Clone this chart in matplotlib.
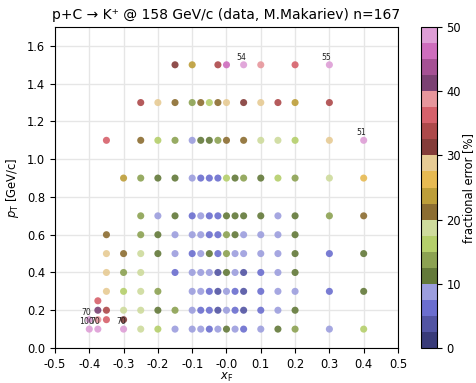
import matplotlib
matplotlib.use("Agg")
import matplotlib.pyplot as plt
import numpy as np

# kinematic grid points (xF, pT) with fractional error in %, one block per pT row
xf_150 = [-0.15, -0.1, -0.025, 0.0, 0.05, 0.1, 0.2, 0.3]
er_150 = [31, 24, 34, 46, 54, 39, 36, 55]

xf_130 = [-0.25, -0.2, -0.15, -0.1, -0.075, -0.05, -0.025, 0.0, 0.05, 0.1, 0.15, 0.2, 0.3]
er_130 = [34, 29, 21, 14, 21, 16, 21, 29, 31, 29, 34, 24, 34]

xf_110 = [-0.35, -0.25, -0.2, -0.15, -0.1, -0.075, -0.05, -0.025, 0.0, 0.05, 0.1, 0.15, 0.2, 0.3, 0.4]
er_110 = [36, 21, 16, 14, 9, 11, 11, 14, 21, 21, 19, 19, 16, 29, 51]

xf_090 = [-0.3, -0.25, -0.2, -0.15, -0.1, -0.075, -0.05, -0.025, 0.0, 0.025, 0.05, 0.1, 0.15, 0.2, 0.3, 0.4]
er_090 = [24, 14, 11, 11, 9, 6, 6, 6, 16, 11, 14, 11, 16, 14, 19, 26]

xf_070 = [-0.25, -0.2, -0.15, -0.1, -0.075, -0.05, -0.025, 0.0, 0.025, 0.05, 0.1, 0.15, 0.2, 0.3, 0.4]
er_070 = [14, 9, 11, 6, 9, 6, 6, 11, 11, 11, 11, 9, 11, 14, 21]

xf_060 = [-0.35, -0.25, -0.2, -0.15, -0.1, -0.075, -0.05, -0.025, 0.0, 0.025, 0.05, 0.1, 0.15, 0.2]
er_060 = [21, 14, 11, 9, 9, 9, 6, 6, 14, 11, 9, 9, 9, 11]

xf_050 = [-0.35, -0.3, -0.25, -0.2, -0.15, -0.1, -0.075, -0.05, -0.025, 0.0, 0.025, 0.05, 0.1, 0.15, 0.2, 0.3, 0.4]
er_050 = [29, 21, 19, 11, 9, 6, 9, 11, 6, 14, 9, 9, 9, 9, 11, 6, 11]

xf_040 = [-0.35, -0.3, -0.25, -0.15, -0.1, -0.075, -0.05, -0.025, 0.0, 0.025, 0.05, 0.1, 0.15, 0.2]
er_040 = [29, 14, 19, 6, 9, 9, 9, 4, 11, 9, 4, 6, 9, 11]

xf_030 = [-0.35, -0.3, -0.25, -0.2, -0.1, -0.075, -0.05, -0.025, 0.0, 0.025, 0.05, 0.1, 0.15, 0.2, 0.3, 0.4]
er_030 = [29, 16, 19, 14, 9, 9, 6, 4, 9, 6, 4, 6, 9, 9, 6, 11]

xf_025 = [-0.375]
er_025 = [36]

xf_020 = [-0.375, -0.35, -0.3, -0.25, -0.2, -0.15, -0.1, -0.075, -0.05, -0.025, 0.0, 0.025, 0.05, 0.1, 0.15, 0.2]
er_020 = [41, 34, 19, 19, 11, 14, 9, 6, 6, 4, 9, 6, 4, 6, 9, 11]

xf_015 = [-0.4, -0.375, -0.35, -0.3]
er_015 = [70, 39, 36, 31]

xf_010 = [-0.4, -0.375, -0.3, -0.25, -0.2, -0.15, -0.1, -0.075, -0.05, -0.025, 0.0, 0.025, 0.05, 0.1, 0.15, 0.2, 0.3, 0.4]
er_010 = [100, 70, 70, 19, 16, 9, 9, 9, 6, 9, 11, 9, 6, 9, 11, 14, 9, 16]

ROWS = [
    (1.5, xf_150, er_150), (1.3, xf_130, er_130), (1.1, xf_110, er_110),
    (0.9, xf_090, er_090), (0.7, xf_070, er_070), (0.6, xf_060, er_060),
    (0.5, xf_050, er_050), (0.4, xf_040, er_040), (0.3, xf_030, er_030),
    (0.25, xf_025, er_025), (0.2, xf_020, er_020), (0.15, xf_015, er_015),
    (0.1, xf_010, er_010),
]

xf = np.concatenate([r[1] for r in ROWS])
pt = np.concatenate([[r[0]] * len(r[1]) for r in ROWS])
err = np.concatenate([r[2] for r in ROWS]).astype(float)

VMAX = 50.0
FS = 8.3

fig = plt.figure(figsize=(4.76, 3.83), dpi=100)
ax = fig.add_axes([0.1155, 0.0914, 0.7206, 0.838])
cax = fig.add_axes([0.884, 0.0914, 0.0336, 0.838])

sc = ax.scatter(xf, pt, c=np.clip(err, 0, VMAX), cmap="tab20b", vmin=0, vmax=VMAX,
                s=26, alpha=0.9, edgecolors="none", zorder=3)

# values above the colour range get their number written next to the marker
for x, y, e in zip(xf, pt, err):
    if e > VMAX:
        ax.annotate(f"{e:.0f}", (x, y), xytext=(-2, 5.5), textcoords="offset points",
                    ha="center", va="center", fontsize=5.6, color="#222222", zorder=4)

ax.set_xlim(-0.5, 0.5)
ax.set_ylim(0, 1.7)
ax.set_xticks(np.arange(-0.5, 0.51, 0.1))
ax.set_yticks(np.arange(0, 1.61, 0.2))
ax.xaxis.set_major_formatter(plt.FormatStrFormatter("%.1f"))
ax.yaxis.set_major_formatter(plt.FormatStrFormatter("%.1f"))
ax.tick_params(labelsize=FS)
ax.grid(True, color="#e6e6e6", lw=1.0, zorder=0)
ax.set_axisbelow(True)
ax.set_xlabel(r"$x_\mathrm{F}$", fontsize=FS, labelpad=0)
ax.set_ylabel(r"$p_\mathrm{T}$ [GeV/c]", fontsize=FS, labelpad=4)
ax.set_title("p+C → K⁺ @ 158 GeV/c (data, M.Makariev) n=167", fontsize=10, pad=6)

cb = fig.colorbar(sc, cax=cax)
cb.solids.set_alpha(1)
cb.set_ticks(np.arange(0, 51, 10))
cb.ax.tick_params(labelsize=FS)
cb.set_label("fractional error [%]", fontsize=FS, labelpad=1)

fig.savefig("out.png", dpi=100)
